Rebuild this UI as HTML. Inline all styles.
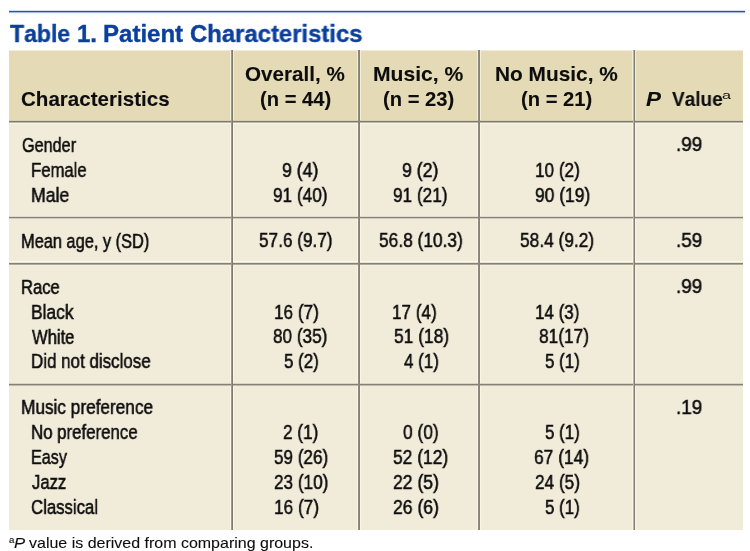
<!DOCTYPE html>
<html><head><meta charset="utf-8"><style>
html,body{margin:0;padding:0;background:#ffffff;}
body{width:750px;height:551px;position:relative;overflow:hidden;font-family:"Liberation Sans",sans-serif;}
.t{position:absolute;white-space:pre;font-kerning:none;transform-origin:0 0;will-change:transform;-webkit-text-stroke:0.55px currentColor;}
.r{position:absolute;}
</style></head><body>
<div class="r" style="left:9px;top:10px;width:736px;height:1px;background:#d4dfee"></div>
<div class="r" style="left:9px;top:11px;width:736px;height:1px;background:#1d5aa6"></div>
<div class="r" style="left:9px;top:12px;width:736px;height:1px;background:#a8bdda"></div>
<div class="r" style="left:9px;top:13px;width:736px;height:1px;background:#f0f3f8"></div>
<div class="r" style="left:9px;top:50px;width:734px;height:1px;background:#f0ead6"></div>
<div class="r" style="left:9px;top:51px;width:734px;height:70px;background:#e4dbb6"></div>
<div class="r" style="left:9px;top:121px;width:734px;height:409px;background:#f1ebda"></div>
<div class="r" style="left:230px;top:51px;width:1px;height:479px;background:rgba(255,255,240,0.55)"></div>
<div class="r" style="left:233px;top:51px;width:1px;height:479px;background:rgba(255,255,240,0.55)"></div>
<div class="r" style="left:357px;top:51px;width:1px;height:479px;background:rgba(255,255,240,0.55)"></div>
<div class="r" style="left:360px;top:51px;width:1px;height:479px;background:rgba(255,255,240,0.55)"></div>
<div class="r" style="left:477px;top:51px;width:1px;height:479px;background:rgba(255,255,240,0.55)"></div>
<div class="r" style="left:480px;top:51px;width:1px;height:479px;background:rgba(255,255,240,0.55)"></div>
<div class="r" style="left:632px;top:51px;width:1px;height:479px;background:rgba(255,255,240,0.55)"></div>
<div class="r" style="left:635px;top:51px;width:1px;height:479px;background:rgba(255,255,240,0.55)"></div>
<div class="r" style="left:9px;top:120px;width:734px;height:1px;background:#d7cfb0"></div>
<div class="r" style="left:9px;top:121px;width:734px;height:1px;background:#807b6c"></div>
<div class="r" style="left:9px;top:122px;width:734px;height:1px;background:#b9b5a8"></div>
<div class="r" style="left:9px;top:123px;width:734px;height:1px;background:#f8f6e6"></div>
<div class="r" style="left:9px;top:216px;width:734px;height:1px;background:#e0dccb"></div>
<div class="r" style="left:9px;top:217px;width:734px;height:1px;background:#85827a"></div>
<div class="r" style="left:9px;top:218px;width:734px;height:1px;background:#cfcbbc"></div>
<div class="r" style="left:9px;top:261px;width:734px;height:1px;background:#fbfaee"></div>
<div class="r" style="left:9px;top:262px;width:734px;height:1px;background:#e5e2cf"></div>
<div class="r" style="left:9px;top:263px;width:734px;height:1px;background:#858177"></div>
<div class="r" style="left:9px;top:264px;width:734px;height:1px;background:#aeaa9c"></div>
<div class="r" style="left:9px;top:265px;width:734px;height:1px;background:#f3f1de"></div>
<div class="r" style="left:9px;top:383px;width:734px;height:1px;background:#d9d5c4"></div>
<div class="r" style="left:9px;top:384px;width:734px;height:1px;background:#858177"></div>
<div class="r" style="left:9px;top:385px;width:734px;height:1px;background:#c0bcad"></div>
<div class="r" style="left:231px;top:50px;width:1px;height:480px;background:#9d988b"></div>
<div class="r" style="left:232px;top:50px;width:1px;height:480px;background:#7e7a70"></div>
<div class="r" style="left:358px;top:50px;width:1px;height:480px;background:#8d897e"></div>
<div class="r" style="left:359px;top:50px;width:1px;height:480px;background:#858176"></div>
<div class="r" style="left:478px;top:50px;width:1px;height:480px;background:#8b877d"></div>
<div class="r" style="left:479px;top:50px;width:1px;height:480px;background:#89857d"></div>
<div class="r" style="left:633px;top:50px;width:1px;height:480px;background:#bab6a6"></div>
<div class="r" style="left:634px;top:50px;width:1px;height:480px;background:#817d74"></div>
<div class="t" style="left:10.04px;top:21.68px;font-size:24px;line-height:24px;font-weight:bold;font-style:normal;color:#0b409d;transform:scaleX(0.9595);-webkit-text-stroke-width:0.4px;">Table</div>
<div class="t" style="left:77.09px;top:21.68px;font-size:24px;line-height:24px;font-weight:bold;font-style:normal;color:#0b409d;transform:scaleX(0.9969);-webkit-text-stroke-width:0.4px;">1.</div>
<div class="t" style="left:102.99px;top:21.68px;font-size:24px;line-height:24px;font-weight:bold;font-style:normal;color:#0b409d;transform:scaleX(1.0011);-webkit-text-stroke-width:0.4px;">Patient</div>
<div class="t" style="left:190.22px;top:21.68px;font-size:24px;line-height:24px;font-weight:bold;font-style:normal;color:#0b409d;transform:scaleX(0.9950);-webkit-text-stroke-width:0.4px;">Characteristics</div>
<div class="t" style="left:21.16px;top:88.90px;font-size:20.2px;line-height:20.2px;font-weight:bold;font-style:normal;color:#0d0d0d;transform:scaleX(1.0186);-webkit-text-stroke-width:0.1px;">Characteristics</div>
<div class="t" style="left:244.75px;top:63.90px;font-size:20.2px;line-height:20.2px;font-weight:bold;font-style:normal;color:#0d0d0d;transform:scaleX(1.0215);-webkit-text-stroke-width:0.1px;">Overall, %</div>
<div class="t" style="left:260.00px;top:88.90px;font-size:20.2px;line-height:20.2px;font-weight:bold;font-style:normal;color:#0d0d0d;transform:scaleX(0.9961);-webkit-text-stroke-width:0.1px;">(n = 44)</div>
<div class="t" style="left:373.19px;top:63.90px;font-size:20.2px;line-height:20.2px;font-weight:bold;font-style:normal;color:#0d0d0d;transform:scaleX(1.0456);-webkit-text-stroke-width:0.1px;">Music, %</div>
<div class="t" style="left:383.00px;top:88.90px;font-size:20.2px;line-height:20.2px;font-weight:bold;font-style:normal;color:#0d0d0d;transform:scaleX(0.9961);-webkit-text-stroke-width:0.1px;">(n = 23)</div>
<div class="t" style="left:494.60px;top:63.90px;font-size:20.2px;line-height:20.2px;font-weight:bold;font-style:normal;color:#0d0d0d;transform:scaleX(1.0334);-webkit-text-stroke-width:0.1px;">No Music, %</div>
<div class="t" style="left:521.00px;top:88.90px;font-size:20.2px;line-height:20.2px;font-weight:bold;font-style:normal;color:#0d0d0d;transform:scaleX(0.9961);-webkit-text-stroke-width:0.1px;">(n = 21)</div>
<div class="t" style="left:21.78px;top:134.62px;font-size:20.3px;line-height:20.3px;font-weight:normal;font-style:normal;color:#0d0d0d;transform:scaleX(0.7988);">Gender</div>
<div class="t" style="left:30.63px;top:159.82px;font-size:20.3px;line-height:20.3px;font-weight:normal;font-style:normal;color:#0d0d0d;transform:scaleX(0.8231);">Female</div>
<div class="t" style="left:30.55px;top:184.92px;font-size:20.3px;line-height:20.3px;font-weight:normal;font-style:normal;color:#0d0d0d;transform:scaleX(0.8689);">Male</div>
<div class="t" style="left:21.26px;top:230.62px;font-size:20.3px;line-height:20.3px;font-weight:normal;font-style:normal;color:#0d0d0d;transform:scaleX(0.8069);">Mean age, y (SD)</div>
<div class="t" style="left:21.24px;top:276.62px;font-size:20.3px;line-height:20.3px;font-weight:normal;font-style:normal;color:#0d0d0d;transform:scaleX(0.8166);">Race</div>
<div class="t" style="left:30.57px;top:302.02px;font-size:20.3px;line-height:20.3px;font-weight:normal;font-style:normal;color:#0d0d0d;transform:scaleX(0.8583);">Black</div>
<div class="t" style="left:31.93px;top:326.62px;font-size:20.3px;line-height:20.3px;font-weight:normal;font-style:normal;color:#0d0d0d;transform:scaleX(0.8173);">White</div>
<div class="t" style="left:30.61px;top:351.42px;font-size:20.3px;line-height:20.3px;font-weight:normal;font-style:normal;color:#0d0d0d;transform:scaleX(0.8356);">Did not disclose</div>
<div class="t" style="left:21.19px;top:397.02px;font-size:20.3px;line-height:20.3px;font-weight:normal;font-style:normal;color:#0d0d0d;transform:scaleX(0.8489);">Music preference</div>
<div class="t" style="left:30.62px;top:422.42px;font-size:20.3px;line-height:20.3px;font-weight:normal;font-style:normal;color:#0d0d0d;transform:scaleX(0.8297);">No preference</div>
<div class="t" style="left:30.67px;top:447.02px;font-size:20.3px;line-height:20.3px;font-weight:normal;font-style:normal;color:#0d0d0d;transform:scaleX(0.7968);">Easy</div>
<div class="t" style="left:31.74px;top:472.12px;font-size:20.3px;line-height:20.3px;font-weight:normal;font-style:normal;color:#0d0d0d;transform:scaleX(0.8215);">Jazz</div>
<div class="t" style="left:31.15px;top:497.42px;font-size:20.3px;line-height:20.3px;font-weight:normal;font-style:normal;color:#0d0d0d;transform:scaleX(0.8258);">Classical</div>
<div class="t" style="left:282.47px;top:159.69px;font-size:20.8px;line-height:20.8px;font-weight:normal;font-style:normal;color:#0d0d0d;transform:scaleX(0.8518);">9 (4)</div>
<div class="t" style="left:273.39px;top:184.79px;font-size:20.8px;line-height:20.8px;font-weight:normal;font-style:normal;color:#0d0d0d;transform:scaleX(0.8265);">91 (40)</div>
<div class="t" style="left:258.91px;top:230.49px;font-size:20.8px;line-height:20.8px;font-weight:normal;font-style:normal;color:#0d0d0d;transform:scaleX(0.8262);">57.6 (9.7)</div>
<div class="t" style="left:273.59px;top:301.89px;font-size:20.8px;line-height:20.8px;font-weight:normal;font-style:normal;color:#0d0d0d;transform:scaleX(0.8239);">16 (7)</div>
<div class="t" style="left:273.36px;top:326.49px;font-size:20.8px;line-height:20.8px;font-weight:normal;font-style:normal;color:#0d0d0d;transform:scaleX(0.8240);">80 (35)</div>
<div class="t" style="left:283.52px;top:351.29px;font-size:20.8px;line-height:20.8px;font-weight:normal;font-style:normal;color:#0d0d0d;transform:scaleX(0.8144);">5 (2)</div>
<div class="t" style="left:283.24px;top:422.29px;font-size:20.8px;line-height:20.8px;font-weight:normal;font-style:normal;color:#0d0d0d;transform:scaleX(0.8261);">2 (1)</div>
<div class="t" style="left:273.92px;top:446.89px;font-size:20.8px;line-height:20.8px;font-weight:normal;font-style:normal;color:#0d0d0d;transform:scaleX(0.8216);">59 (26)</div>
<div class="t" style="left:273.74px;top:471.99px;font-size:20.8px;line-height:20.8px;font-weight:normal;font-style:normal;color:#0d0d0d;transform:scaleX(0.8243);">23 (10)</div>
<div class="t" style="left:273.59px;top:497.29px;font-size:20.8px;line-height:20.8px;font-weight:normal;font-style:normal;color:#0d0d0d;transform:scaleX(0.8278);">16 (7)</div>
<div class="t" style="left:402.47px;top:159.69px;font-size:20.8px;line-height:20.8px;font-weight:normal;font-style:normal;color:#0d0d0d;transform:scaleX(0.8518);">9 (2)</div>
<div class="t" style="left:393.39px;top:184.79px;font-size:20.8px;line-height:20.8px;font-weight:normal;font-style:normal;color:#0d0d0d;transform:scaleX(0.8265);">91 (21)</div>
<div class="t" style="left:378.91px;top:230.49px;font-size:20.8px;line-height:20.8px;font-weight:normal;font-style:normal;color:#0d0d0d;transform:scaleX(0.8327);">56.8 (10.3)</div>
<div class="t" style="left:392.20px;top:301.89px;font-size:20.8px;line-height:20.8px;font-weight:normal;font-style:normal;color:#0d0d0d;transform:scaleX(0.8220);">17 (4)</div>
<div class="t" style="left:393.60px;top:326.49px;font-size:20.8px;line-height:20.8px;font-weight:normal;font-style:normal;color:#0d0d0d;transform:scaleX(0.8357);">51 (18)</div>
<div class="t" style="left:403.61px;top:351.29px;font-size:20.8px;line-height:20.8px;font-weight:normal;font-style:normal;color:#0d0d0d;transform:scaleX(0.8171);">4 (1)</div>
<div class="t" style="left:403.12px;top:422.29px;font-size:20.8px;line-height:20.8px;font-weight:normal;font-style:normal;color:#0d0d0d;transform:scaleX(0.8361);">0 (0)</div>
<div class="t" style="left:393.20px;top:446.89px;font-size:20.8px;line-height:20.8px;font-weight:normal;font-style:normal;color:#0d0d0d;transform:scaleX(0.8372);">52 (12)</div>
<div class="t" style="left:393.02px;top:471.99px;font-size:20.8px;line-height:20.8px;font-weight:normal;font-style:normal;color:#0d0d0d;transform:scaleX(0.8442);">22 (5)</div>
<div class="t" style="left:393.02px;top:497.29px;font-size:20.8px;line-height:20.8px;font-weight:normal;font-style:normal;color:#0d0d0d;transform:scaleX(0.8442);">26 (6)</div>
<div class="t" style="left:535.09px;top:159.69px;font-size:20.8px;line-height:20.8px;font-weight:normal;font-style:normal;color:#0d0d0d;transform:scaleX(0.8239);">10 (2)</div>
<div class="t" style="left:534.98px;top:184.79px;font-size:20.8px;line-height:20.8px;font-weight:normal;font-style:normal;color:#0d0d0d;transform:scaleX(0.8375);">90 (19)</div>
<div class="t" style="left:520.21px;top:230.49px;font-size:20.8px;line-height:20.8px;font-weight:normal;font-style:normal;color:#0d0d0d;transform:scaleX(0.8331);">58.4 (9.2)</div>
<div class="t" style="left:535.11px;top:301.89px;font-size:20.8px;line-height:20.8px;font-weight:normal;font-style:normal;color:#0d0d0d;transform:scaleX(0.8161);">14 (3)</div>
<div class="t" style="left:539.15px;top:326.49px;font-size:20.8px;line-height:20.8px;font-weight:normal;font-style:normal;color:#0d0d0d;transform:scaleX(0.8320);">81(17)</div>
<div class="t" style="left:544.62px;top:351.29px;font-size:20.8px;line-height:20.8px;font-weight:normal;font-style:normal;color:#0d0d0d;transform:scaleX(0.8144);">5 (1)</div>
<div class="t" style="left:544.62px;top:422.29px;font-size:20.8px;line-height:20.8px;font-weight:normal;font-style:normal;color:#0d0d0d;transform:scaleX(0.8144);">5 (1)</div>
<div class="t" style="left:534.12px;top:446.89px;font-size:20.8px;line-height:20.8px;font-weight:normal;font-style:normal;color:#0d0d0d;transform:scaleX(0.8355);">67 (14)</div>
<div class="t" style="left:534.53px;top:471.99px;font-size:20.8px;line-height:20.8px;font-weight:normal;font-style:normal;color:#0d0d0d;transform:scaleX(0.8269);">24 (5)</div>
<div class="t" style="left:544.62px;top:497.29px;font-size:20.8px;line-height:20.8px;font-weight:normal;font-style:normal;color:#0d0d0d;transform:scaleX(0.8144);">5 (1)</div>
<div class="t" style="left:675.77px;top:134.49px;font-size:20.8px;line-height:20.8px;font-weight:normal;font-style:normal;color:#0d0d0d;transform:scaleX(0.9105);">.99</div>
<div class="t" style="left:675.77px;top:230.49px;font-size:20.8px;line-height:20.8px;font-weight:normal;font-style:normal;color:#0d0d0d;transform:scaleX(0.9105);">.59</div>
<div class="t" style="left:675.77px;top:276.49px;font-size:20.8px;line-height:20.8px;font-weight:normal;font-style:normal;color:#0d0d0d;transform:scaleX(0.9105);">.99</div>
<div class="t" style="left:675.77px;top:396.89px;font-size:20.8px;line-height:20.8px;font-weight:normal;font-style:normal;color:#0d0d0d;transform:scaleX(0.9105);">.19</div>
<div class="t" style="left:646.31px;top:88.90px;font-size:20.2px;line-height:20.2px;font-weight:bold;font-style:italic;color:#0d0d0d;transform:scaleX(1.1105);-webkit-text-stroke-width:0.1px;">P</div>
<div class="t" style="left:671.57px;top:88.90px;font-size:20.2px;line-height:20.2px;font-weight:bold;font-style:normal;color:#0d0d0d;transform:scaleX(0.9404);-webkit-text-stroke-width:0.1px;">Value</div>
<div class="t" style="left:721.71px;top:89.89px;font-size:11px;line-height:11px;font-weight:normal;font-style:normal;color:#0d0d0d;transform:scaleX(1.4689);-webkit-text-stroke-width:0px;">a</div>
<div class="t" style="left:8.79px;top:535.88px;font-size:9px;line-height:9px;font-weight:normal;font-style:normal;color:#0d0d0d;transform:scaleX(1.0815);-webkit-text-stroke-width:0.1px;">a</div>
<div class="t" style="left:13.99px;top:534.90px;font-size:15px;line-height:15px;font-weight:normal;font-style:italic;color:#0d0d0d;transform:scaleX(1.1113);-webkit-text-stroke-width:0.1px;">P</div>
<div class="t" style="left:29.15px;top:534.90px;font-size:15px;line-height:15px;font-weight:normal;font-style:normal;color:#0d0d0d;transform:scaleX(1.0657);-webkit-text-stroke-width:0.1px;">value is derived from comparing groups.</div>
</body></html>
